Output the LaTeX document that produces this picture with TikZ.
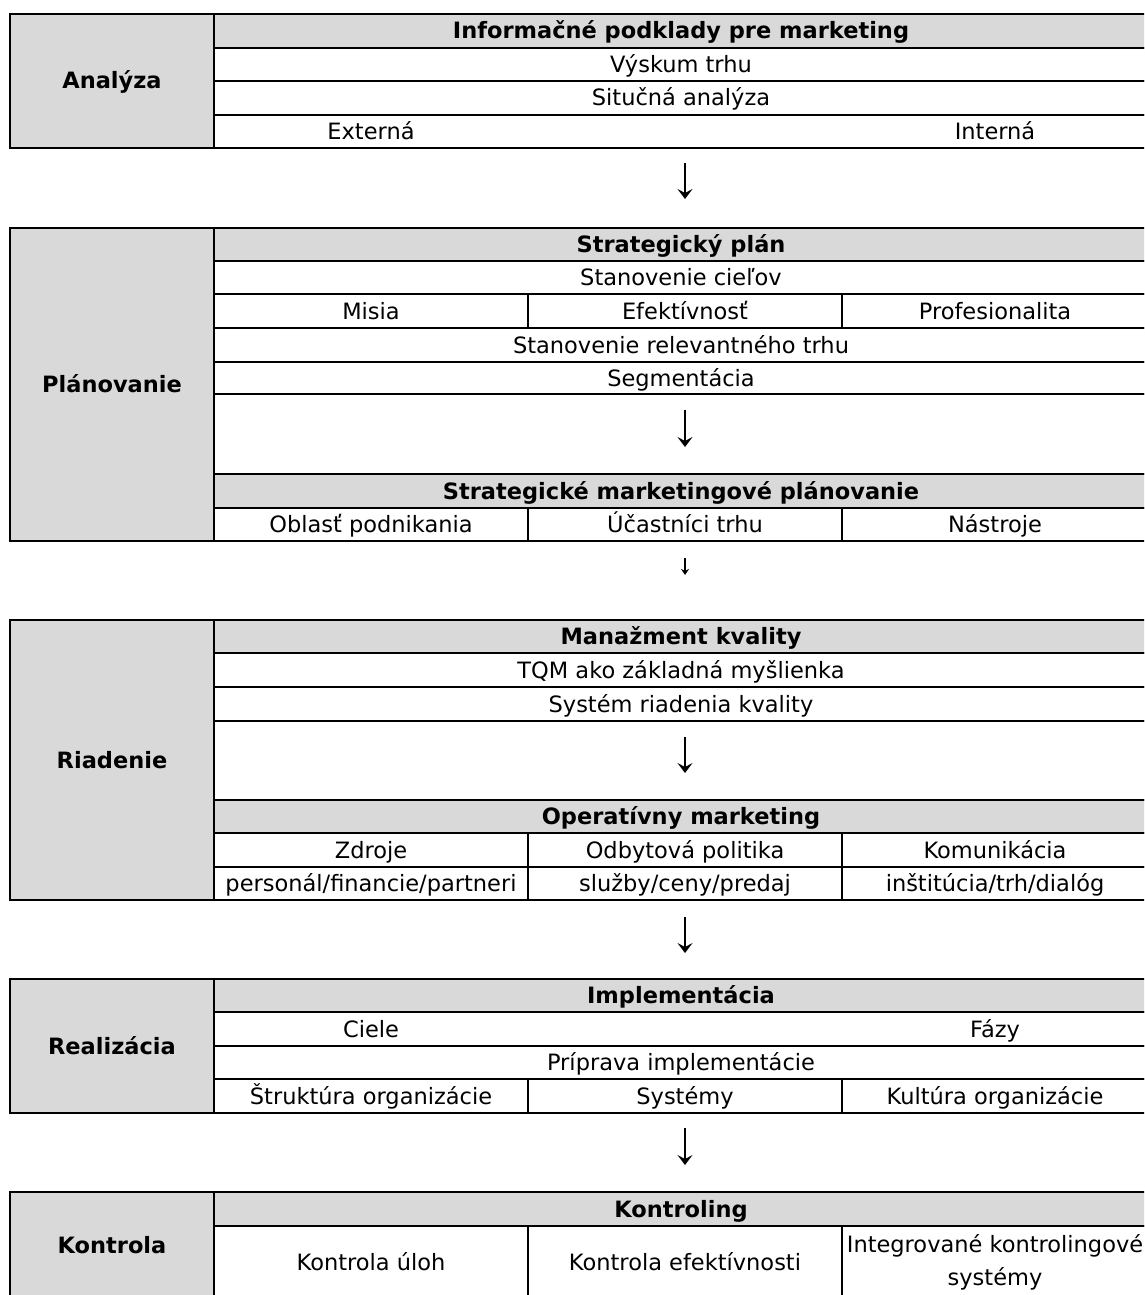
\documentclass[tikz,border=0pt]{standalone}
\usepackage{fontspec}
\setmainfont{DejaVu Sans}
\usetikzlibrary{arrows.meta}
\definecolor{hdrgray}{RGB}{217,217,217}
\newcommand{\mycell}[7]{%
  \pgfmathsetmacro{\cbw}{#5-#3}%
  \pgfmathsetmacro{\cbh}{#6-#4}%
  \node[#2, minimum width=\cbw pt, minimum height=\cbh pt] (#1) at (#3,#4) {#7};}
\begin{document}
\begin{tikzpicture}[x=1pt,y=-1pt,
  cell/.style={draw=black, line width=2.5pt, inner sep=0pt, outer sep=0pt, anchor=north west,
    font=\fontsize{22.5}{33}\selectfont, text height=16pt, text depth=0pt},
  hcell/.style={cell, fill=hdrgray, font=\fontsize{22.5}{33}\selectfont\bfseries},
  lcell/.style={cell, fill=hdrgray, font=\fontsize{22.5}{33}\selectfont\bfseries},
  mcell/.style={draw=black, line width=2.5pt, inner sep=0pt, outer sep=0pt, anchor=north west,
    font=\fontsize{22.5}{33}\selectfont, align=center},
  txt/.style={inner sep=0pt, font=\fontsize{22.5}{33}\selectfont, text height=16pt, text depth=0pt},
  flow/.style={-{Stealth[length=10pt,width=15pt,inset=4pt]}, line width=2.4pt},
  smallflow/.style={-{Stealth[length=6pt,width=8pt,inset=2pt]}, line width=1.3pt}
]
\useasboundingbox (0,0) rectangle (1144,1295);
\clip (0,0) rectangle (1144,1295);

% ---------- Analyza ----------
\mycell{aL}{lcell}{10}{14}{214}{148}{Analýza}
\mycell{aH}{hcell}{214}{14}{1148}{48}{Informačné podklady pre marketing}
\mycell{aR1}{cell}{214}{48}{1148}{81}{Výskum trhu}
\mycell{aR2}{cell}{214}{81}{1148}{115}{Situčná analýza}
\mycell{aR3}{cell}{214}{115}{1148}{148}{}
\node[txt] (aExt) at (371,131.5) {Externá};
\node[txt] (aInt) at (995,131.5) {Interná};

% ---------- Planovanie ----------
\mycell{bL}{lcell}{10}{228}{214}{541}{Plánovanie}
\mycell{bH}{hcell}{214}{228}{1148}{261}{Strategický plán}
\mycell{bR1}{cell}{214}{261}{1148}{294}{Stanovenie cieľov}
\mycell{bC1}{cell}{214}{294}{528}{328}{Misia}
\mycell{bC2}{cell}{528}{294}{842}{328}{Efektívnosť}
\mycell{bC3}{cell}{842}{294}{1148}{328}{Profesionalita}
\mycell{bR3}{cell}{214}{328}{1148}{362}{Stanovenie relevantného trhu}
\mycell{bR4}{cell}{214}{362}{1148}{394}{Segmentácia}
\mycell{bR5}{cell}{214}{394}{1148}{474}{}
\mycell{bH2}{hcell}{214}{474}{1148}{508}{Strategické marketingové plánovanie}
\mycell{bD1}{cell}{214}{508}{528}{541}{Oblasť podnikania}
\mycell{bD2}{cell}{528}{508}{842}{541}{Účastníci trhu}
\mycell{bD3}{cell}{842}{508}{1148}{541}{Nástroje}

% ---------- Riadenie ----------
\mycell{cL}{lcell}{10}{620}{214}{900}{Riadenie}
\mycell{cH}{hcell}{214}{620}{1148}{653}{Manažment kvality}
\mycell{cR1}{cell}{214}{653}{1148}{687}{TQM ako základná myšlienka}
\mycell{cR2}{cell}{214}{687}{1148}{721}{Systém riadenia kvality}
\mycell{cR3}{cell}{214}{721}{1148}{800}{}
\mycell{cH2}{hcell}{214}{800}{1148}{833}{Operatívny marketing}
\mycell{cC1}{cell}{214}{833}{528}{867}{Zdroje}
\mycell{cC2}{cell}{528}{833}{842}{867}{Odbytová politika}
\mycell{cC3}{cell}{842}{833}{1148}{867}{Komunikácia}
\mycell{cD1}{cell}{214}{867}{528}{900}{personál/financie/partneri}
\mycell{cD2}{cell}{528}{867}{842}{900}{služby/ceny/predaj}
\mycell{cD3}{cell}{842}{867}{1148}{900}{inštitúcia/trh/dialóg}

% ---------- Realizacia ----------
\mycell{dL}{lcell}{10}{979}{214}{1113}{Realizácia}
\mycell{dH}{hcell}{214}{979}{1148}{1012}{Implementácia}
\mycell{dR1}{cell}{214}{1012}{1148}{1046}{}
\node[txt] (dCiele) at (371,1029) {Ciele};
\node[txt] (dFazy) at (995,1029) {Fázy};
\mycell{dR2}{cell}{214}{1046}{1148}{1079}{Príprava implementácie}
\mycell{dC1}{cell}{214}{1079}{528}{1113}{Štruktúra organizácie}
\mycell{dC2}{cell}{528}{1079}{842}{1113}{Systémy}
\mycell{dC3}{cell}{842}{1079}{1148}{1113}{Kultúra organizácie}

% ---------- Kontrola ----------
\mycell{eL}{lcell}{10}{1192}{214}{1298}{Kontrola}
\mycell{eH}{hcell}{214}{1192}{1148}{1226}{Kontroling}
\mycell{eC1}{cell}{214}{1226}{528}{1298}{Kontrola úloh}
\mycell{eC2}{cell}{528}{1226}{842}{1298}{Kontrola efektívnosti}
\mycell{eC3}{mcell}{842}{1226}{1148}{1298}{Integrované kontrolingové\\systémy}

% ---------- arrows ----------
\coordinate (f1s) at (685,163); \coordinate (f1e) at (685,199);
\coordinate (f2s) at (685,410); \coordinate (f2e) at (685,447);
\coordinate (f3s) at (685,558); \coordinate (f3e) at (685,575);
\coordinate (f4s) at (685,737); \coordinate (f4e) at (685,773);
\coordinate (f5s) at (685,917); \coordinate (f5e) at (685,953);
\coordinate (f6s) at (685,1128); \coordinate (f6e) at (685,1165);
\draw[flow] (f1s) -- (f1e);
\draw[flow] (f2s) -- (f2e);
\draw[smallflow] (f3s) -- (f3e);
\draw[flow] (f4s) -- (f4e);
\draw[flow] (f5s) -- (f5e);
\draw[flow] (f6s) -- (f6e);
\end{tikzpicture}
\end{document}
